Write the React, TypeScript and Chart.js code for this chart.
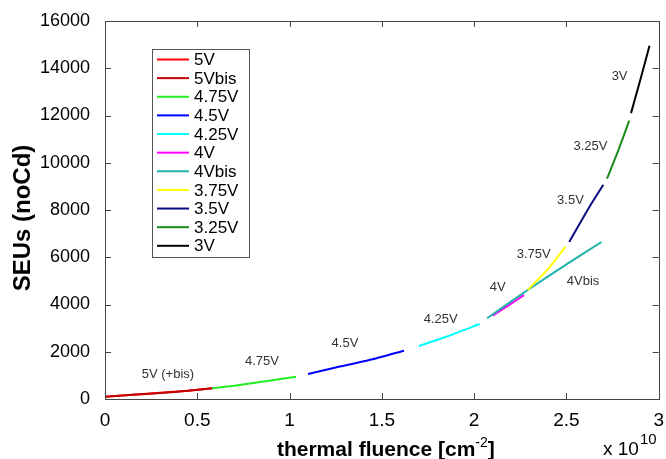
import React, { useEffect, useRef } from "react";
import { Chart, registerables } from "chart.js";

Chart.register(...registerables);

const seriesLabels = ["5V", "5Vbis", "4.75V", "4.5V", "4.25V", "4V", "4Vbis", "3.75V", "3.5V", "3.25V", "3V"];
const seriesColors = ["#ff0000", "#c00000", "#22ee22", "#0000ff", "#00ffff", "#ff00ff", "#20b2aa", "#ffff00", "#0a0a80", "#1a8a1a", "#000000"];

const s5V = [[0, 100], [0.15, 180], [0.3, 260], [0.45, 350], [0.58, 450]];
const s5Vbis = [[0, 95], [0.15, 175], [0.3, 255], [0.45, 345], [0.585, 455]];
const s475V = [[0.58, 450], [0.7, 560], [0.85, 730], [1.035, 940]];
const s45V = [[1.1, 1060], [1.25, 1330], [1.45, 1680], [1.62, 2045]];
const s425V = [[1.7, 2240], [1.865, 2680], [2.03, 3175]];
const s4V = [[2.1, 3530], [2.18, 3930], [2.27, 4400]];
const s4Vbis = [[2.07, 3416], [2.29, 4614], [2.5, 5700], [2.69, 6646]];
const s375V = [[2.29, 4614], [2.4, 5500], [2.495, 6440]];
const s35V = [[2.515, 6650], [2.626, 8150], [2.7, 9070]];
const s325V = [[2.72, 9330], [2.78, 10500], [2.84, 11780]];
const s3V = [[2.85, 12100], [2.9, 13500], [2.95, 14950]];
const seriesData = [s5V, s5Vbis, s475V, s45V, s425V, s4V, s4Vbis, s375V, s35V, s325V, s3V];

const xTickValues = [0, 0.5, 1, 1.5, 2, 2.5, 3];
const yTickValues = [0, 2000, 4000, 6000, 8000, 10000, 12000, 14000, 16000];

const annotationTexts = ["5V (+bis)", "4.75V", "4.5V", "4.25V", "4V", "3.75V", "4Vbis", "3.5V", "3.25V", "3V"];
const annotationX = [0.341, 0.85, 1.3, 1.819, 2.128, 2.323, 2.59, 2.522, 2.63, 2.788];
const annotationY = [1024, 1579, 2347, 3371, 4736, 6102, 4962, 8393, 10671, 13658];

const FONT = "'Liberation Sans', Arial, Helvetica, sans-serif";

const framePlugin = {
  id: "matlabFrame",
  afterDraw(chart: any) {
    const ctx = chart.ctx;
    const { left, right, top, bottom } = chart.chartArea;
    const xs = chart.scales.x;
    const ys = chart.scales.y;
    ctx.save();
    // frame
    ctx.strokeStyle = "#444";
    ctx.lineWidth = 1;
    ctx.strokeRect(Math.round(left) + 0.5, Math.round(top) + 0.5, Math.round(right - left), Math.round(bottom - top));
    // inward ticks
    const tl = 6;
    ctx.beginPath();
    xTickValues.forEach((v) => {
      const px = Math.round(xs.getPixelForValue(v)) + 0.5;
      ctx.moveTo(px, bottom);
      ctx.lineTo(px, bottom - tl);
      ctx.moveTo(px, top);
      ctx.lineTo(px, top + tl);
    });
    yTickValues.forEach((v) => {
      const py = Math.round(ys.getPixelForValue(v)) + 0.5;
      ctx.moveTo(left, py);
      ctx.lineTo(left + tl, py);
      ctx.moveTo(right, py);
      ctx.lineTo(right - tl, py);
    });
    ctx.stroke();

    // annotations
    ctx.fillStyle = "#333";
    ctx.font = `13px ${FONT}`;
    ctx.textAlign = "center";
    ctx.textBaseline = "middle";
    annotationTexts.forEach((t, i) => {
      ctx.fillText(t, xs.getPixelForValue(annotationX[i]), ys.getPixelForValue(annotationY[i]));
    });

    // legend
    const lx = 152, ly = 49, lw = 97, lh = 208;
    ctx.fillStyle = "#fff";
    ctx.fillRect(lx, ly, lw, lh);
    ctx.strokeStyle = "#555";
    ctx.strokeRect(lx + 0.5, ly + 0.5, lw, lh);
    ctx.font = `17px ${FONT}`;
    ctx.textAlign = "left";
    ctx.textBaseline = "middle";
    seriesLabels.forEach((lab, i) => {
      const y = 59.5 + i * 18.63;
      ctx.strokeStyle = seriesColors[i];
      ctx.lineWidth = 2;
      ctx.beginPath();
      ctx.moveTo(157, y);
      ctx.lineTo(189, y);
      ctx.stroke();
      ctx.fillStyle = "#000";
      ctx.fillText(lab, 194, y + 1);
    });

    // x title with superscript
    ctx.fillStyle = "#000";
    ctx.textBaseline = "alphabetic";
    const main = "thermal fluence [cm";
    const sup = "-2";
    const end = "]";
    ctx.font = `bold 21px ${FONT}`;
    const wMain = ctx.measureText(main).width;
    const wEnd = ctx.measureText(end).width;
    ctx.font = `14px ${FONT}`;
    const wSup = ctx.measureText(sup).width;
    const total = wMain + wSup + wEnd;
    const cx = (left + right) / 2 + 4;
    const x0 = cx - total / 2;
    const base = 456;
    ctx.font = `bold 21px ${FONT}`;
    ctx.fillText(main, x0, base);
    ctx.font = `14px ${FONT}`;
    ctx.fillText(sup, x0 + wMain, base - 9);
    ctx.font = `bold 21px ${FONT}`;
    ctx.fillText(end, x0 + wMain + wSup, base);

    // exponent
    ctx.font = `19px ${FONT}`;
    ctx.fillText("x 10", 603, 455);
    const wx = ctx.measureText("x 10").width;
    ctx.font = `15px ${FONT}`;
    ctx.fillText("10", 603 + wx + 1, 444);

    // y title
    ctx.save();
    ctx.translate(23, 218);
    ctx.rotate(-Math.PI / 2);
    ctx.font = `bold 24px ${FONT}`;
    ctx.textAlign = "center";
    ctx.textBaseline = "middle";
    ctx.fillText("SEUs (noCd)", 0, 0);
    ctx.restore();

    ctx.restore();
  },
};

export default function App() {
  const ref = useRef<HTMLCanvasElement | null>(null);
  useEffect(() => {
    if (!ref.current) return;
    const n = seriesLabels.length;
    const chart = new Chart(ref.current, {
      type: "scatter",
      data: {
        datasets: seriesLabels.map((lab, i) => ({
          label: lab,
          data: seriesData[i].map(([x, y]) => ({ x, y })),
          showLine: true,
          borderColor: seriesColors[i],
          backgroundColor: seriesColors[i],
          borderWidth: 2,
          pointRadius: 0,
          tension: 0.2,
          order: n - i,
        })),
      },
      options: {
        animation: false,
        responsive: false,
        maintainAspectRatio: false,
        layout: { padding: { top: 21, right: 7, left: 0, bottom: 0 } },
        plugins: { legend: { display: false }, tooltip: { enabled: false } },
        scales: {
          x: {
            type: "linear",
            min: 0,
            max: 3,
            afterBuildTicks: (s: any) => {
              s.ticks = xTickValues.map((v) => ({ value: v }));
            },
            afterFit: (s: any) => {
              s.height = 60;
            },
            grid: { display: false },
            border: { display: false },
            ticks: {
              color: "#000",
              padding: 2,
              font: { size: 19, family: FONT },
              callback: (v: any) => String(v),
              maxRotation: 0,
            },
          },
          y: {
            type: "linear",
            min: 0,
            max: 16000,
            afterBuildTicks: (s: any) => {
              s.ticks = yTickValues.map((v) => ({ value: v }));
            },
            afterFit: (s: any) => {
              s.width = 105;
            },
            grid: { display: false },
            border: { display: false },
            ticks: {
              color: "#000",
              padding: 7,
              font: { size: 18, family: FONT },
              callback: (v: any) => String(v),
            },
          },
        },
      },
      plugins: [framePlugin],
    });
    return () => chart.destroy();
  }, []);
  return (
    <div style={{ position: "absolute", left: 0, top: 0, width: 666, height: 459, background: "#fff" }}>
      <canvas ref={ref} width={666} height={459} style={{ width: 666, height: 459, display: "block" }} />
    </div>
  );
}
